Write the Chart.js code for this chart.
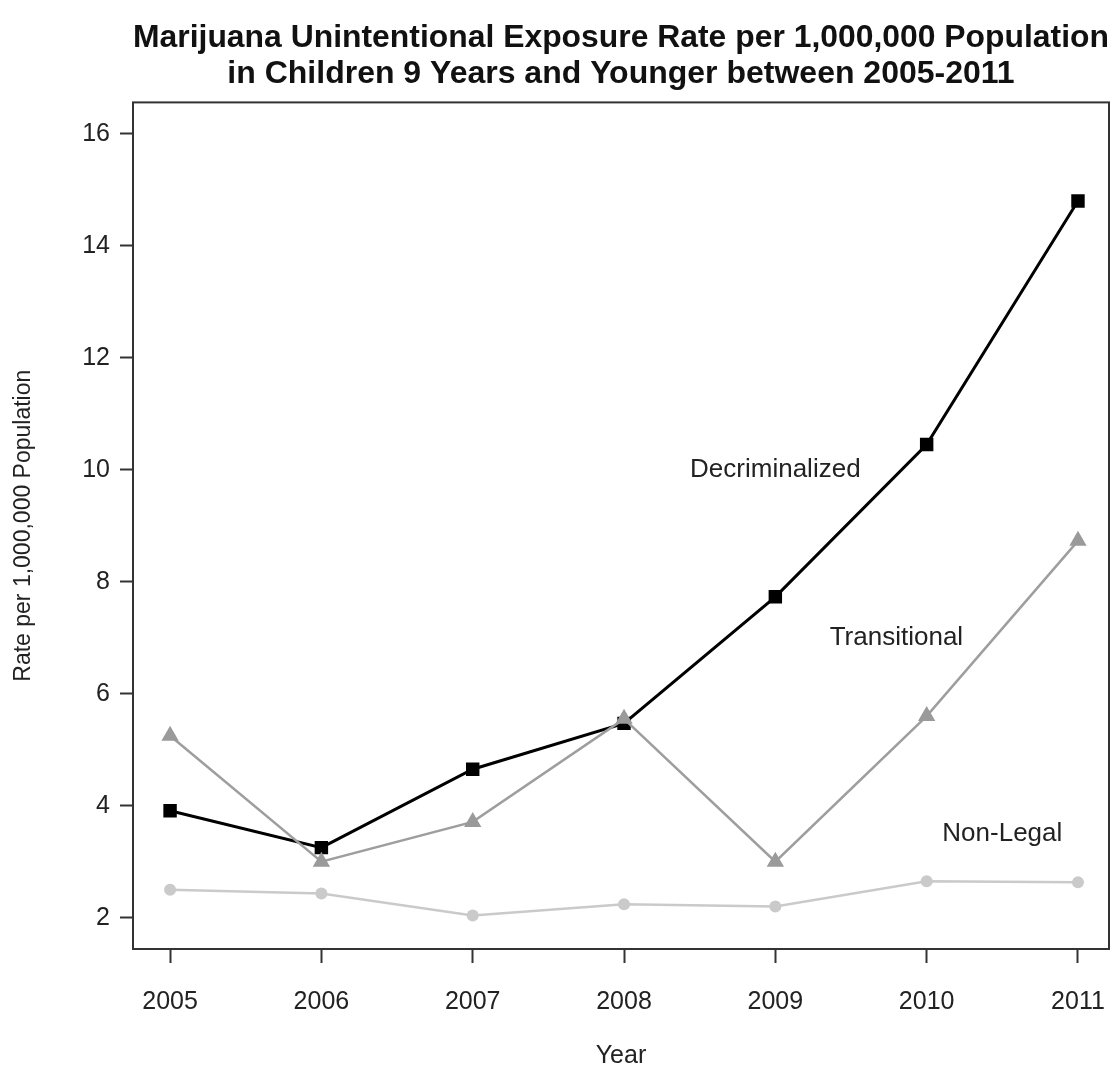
<!DOCTYPE html>
<html>
<head>
<meta charset="utf-8">
<script src="https://cdn.jsdelivr.net/npm/chart.js@4.4.1/dist/chart.umd.min.js"></script>
<style>
  html, body { margin: 0; padding: 0; background: #fff; overflow: hidden; }
</style>
</head>
<body>
<canvas id="chart" width="1119" height="1069"></canvas>
<script>
// donnees
const years = [2005, 2006, 2007, 2008, 2009, 2010, 2011];
const decriminalized = [3.91, 3.25, 4.65, 5.47, 7.73, 10.45, 14.8];
const transitional = [5.25, 3.0, 3.71, 5.55, 3.0, 5.6, 8.73];
const nonLegal = [2.5, 2.43, 2.04, 2.24, 2.2, 2.65, 2.63];
const yTicks = [2, 4, 6, 8, 10, 12, 14, 16];

const seriesNames = ['Decriminalized', 'Transitional', 'Non-Legal'];
const labelX = [2009, 2009.8, 2010.5];
const labelY = [10, 7, 3.5];

const FONT = "'Liberation Sans', Arial, Helvetica, sans-serif";

function toPoints(values) {
    return years.map((y, i) => ({ x: y, y: values[i] }));
}

function noPadding(scale) {
    scale.paddingLeft = 0;
    scale.paddingRight = 0;
    scale.paddingTop = 0;
    scale.paddingBottom = 0;
}

// etiquettes des series dans la zone du graphique + cadre
const seriesLabelPlugin = {
    id: 'seriesLabels',
    afterDatasetsDraw(chart) {
        const ctx = chart.ctx;
        const xs = chart.scales.x, ys = chart.scales.y;
        ctx.save();
        ctx.font = '26px ' + FONT;
        ctx.fillStyle = '#222';
        ctx.textAlign = 'center';
        ctx.textBaseline = 'middle';
        seriesNames.forEach((name, i) => {
            ctx.fillText(name, xs.getPixelForValue(labelX[i]), ys.getPixelForValue(labelY[i]));
        });
        ctx.restore();
    },
    afterDraw(chart) {
        const a = chart.chartArea;
        const ctx = chart.ctx;
        ctx.save();
        ctx.strokeStyle = '#333';
        ctx.lineWidth = 2;
        ctx.strokeRect(a.left, a.top, a.right - a.left, a.bottom - a.top);
        ctx.restore();
    }
};

new Chart(document.getElementById('chart'), {
    type: 'line',
    data: {
        datasets: [
            {
                label: 'Non-Legal',
                data: toPoints(nonLegal),
                borderColor: '#cacaca',
                backgroundColor: '#cacaca',
                borderWidth: 2.5,
                pointStyle: 'circle',
                pointRadius: 6,
                pointBorderWidth: 0
            },
            {
                label: 'Transitional',
                data: toPoints(transitional),
                borderColor: '#9e9e9e',
                backgroundColor: '#9a9a9a',
                borderWidth: 2.5,
                pointStyle: 'triangle',
                pointRadius: 10,
                pointBorderWidth: 0
            },
            {
                label: 'Decriminalized',
                data: toPoints(decriminalized),
                borderColor: '#000',
                backgroundColor: '#000',
                borderWidth: 3,
                pointStyle: 'rect',
                pointRadius: 9.5,
                pointBorderWidth: 0
            }
        ]
    },
    options: {
        responsive: false,
        animation: false,
        layout: { padding: { left: 0, right: 5, top: 0, bottom: 0 } },
        plugins: {
            legend: { display: false },
            tooltip: { enabled: false },
            title: {
                display: true,
                fullSize: false,
                text: ['Marijuana Unintentional Exposure Rate per 1,000,000 Population',
                       'in Children 9 Years and Younger between 2005-2011'],
                color: '#111',
                font: { family: FONT, size: 32, weight: 'bold', lineHeight: 1.1 },
                padding: { top: 21, bottom: 11 }
            }
        },
        scales: {
            x: {
                type: 'linear',
                min: 2004.755,
                max: 2011.205,
                afterBuildTicks(scale) {
                    scale.ticks = years.map(v => ({ value: v }));
                },
                afterFit(scale) {
                    scale.height = 120;
                    noPadding(scale);
                },
                border: { display: false },
                grid: {
                    drawOnChartArea: false,
                    drawTicks: true,
                    tickLength: 14,
                    tickColor: '#333',
                    tickWidth: 2
                },
                ticks: {
                    color: '#222',
                    font: { family: FONT, size: 25 },
                    padding: 24,
                    maxRotation: 0,
                    callback: v => String(v)
                },
                title: {
                    display: true,
                    text: 'Year',
                    color: '#222',
                    font: { family: FONT, size: 25, lineHeight: 1.0 },
                    padding: 0
                }
            },
            y: {
                min: 1.44,
                max: 16.56,
                afterBuildTicks(scale) {
                    scale.ticks = yTicks.map(v => ({ value: v }));
                },
                afterFit(scale) {
                    scale.width = 133;
                    noPadding(scale);
                },
                border: { display: false },
                grid: {
                    drawOnChartArea: false,
                    drawTicks: true,
                    tickLength: 13,
                    tickColor: '#333',
                    tickWidth: 2
                },
                ticks: {
                    color: '#222',
                    font: { family: FONT, size: 25 },
                    padding: 10
                },
                title: {
                    display: true,
                    text: 'Rate per 1,000,000 Population',
                    color: '#222',
                    font: { family: FONT, size: 23 },
                    padding: 10
                }
            }
        }
    },
    plugins: [seriesLabelPlugin]
});
</script>
</body>
</html>
